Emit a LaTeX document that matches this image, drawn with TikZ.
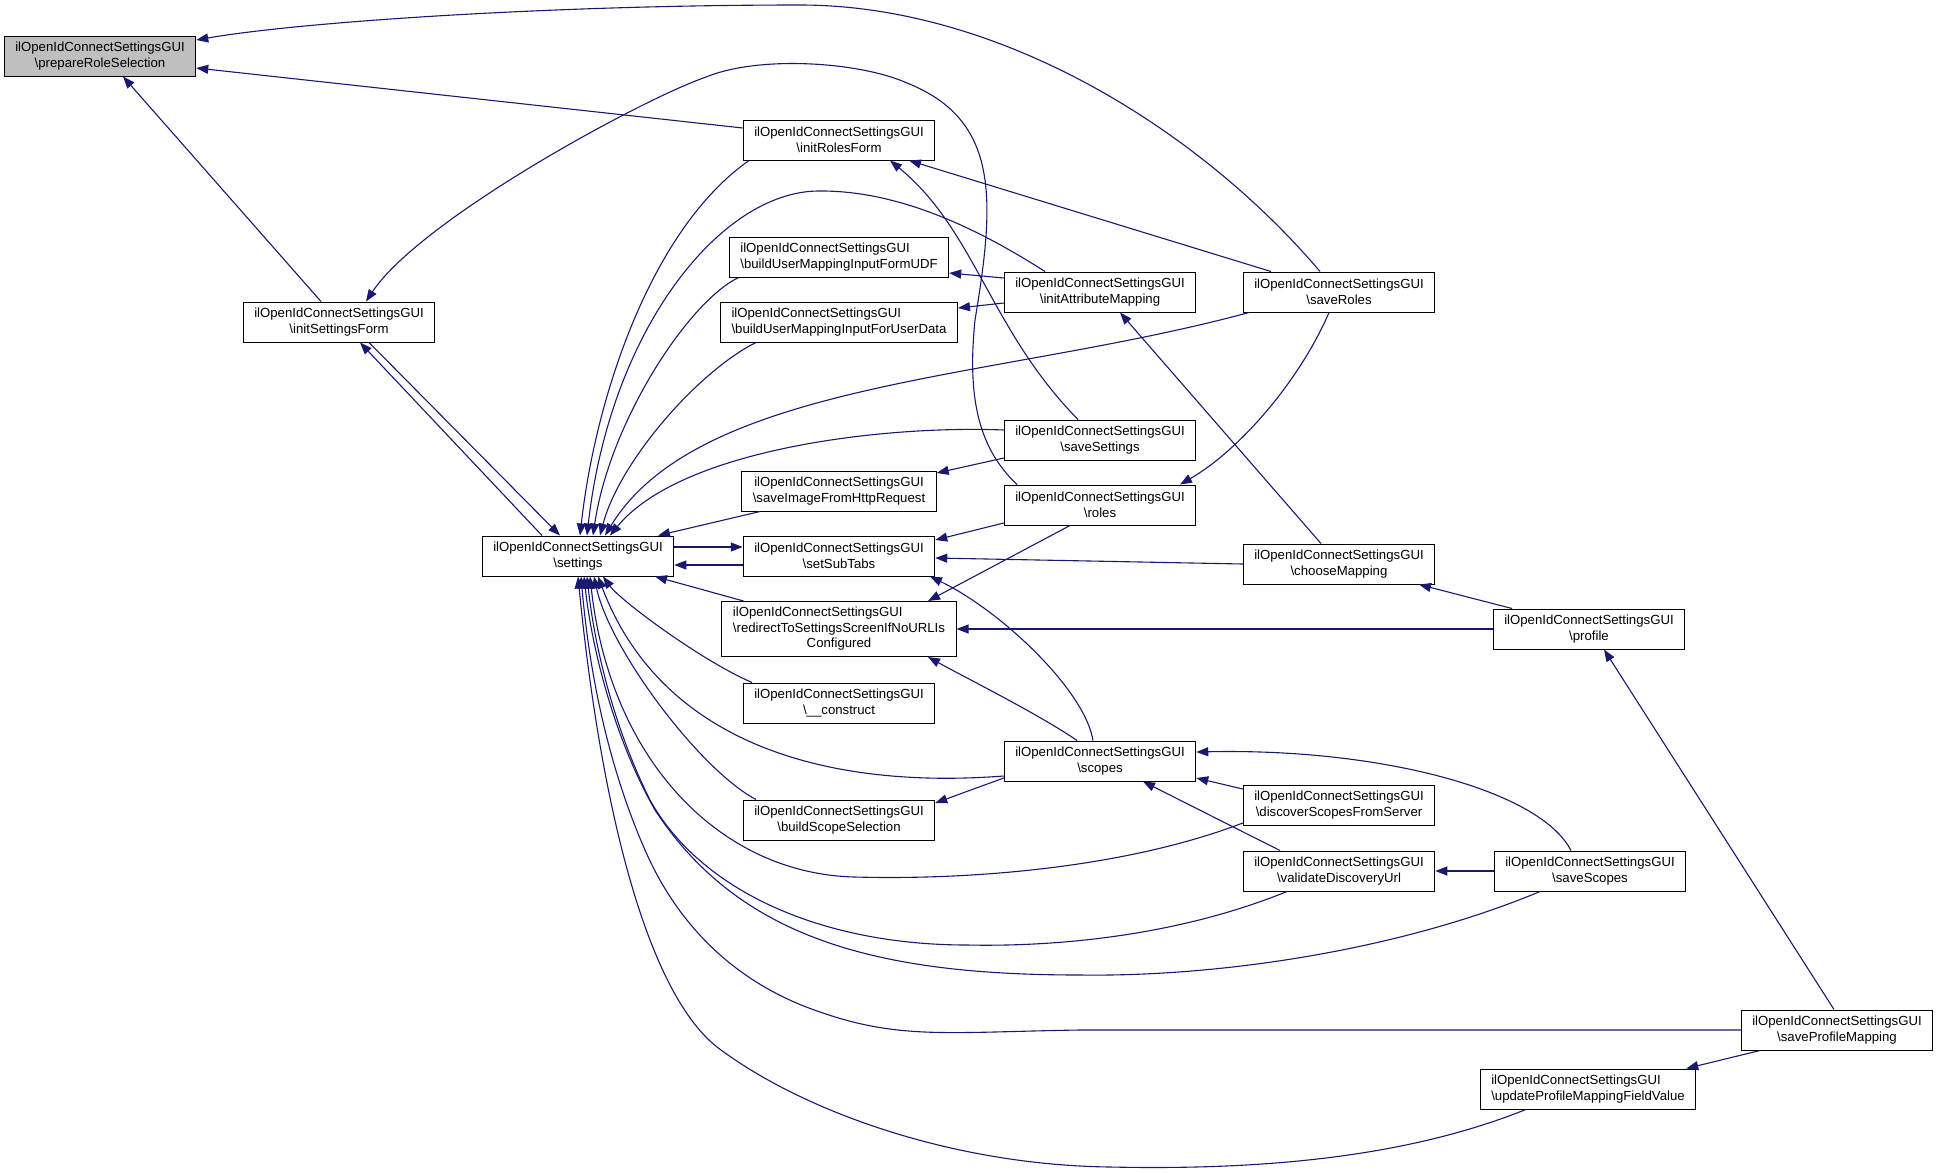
\documentclass[tikz,border=0pt]{standalone}
\usepackage{fontspec}
\setmainfont{Liberation Sans}
\usetikzlibrary{arrows.meta}
\definecolor{edgeblue}{HTML}{191970}
\definecolor{rootgray}{HTML}{BFBFBF}
\tikzset{
  fnbox/.style={draw=black, line width=1pt, minimum width=191pt, minimum height=40pt, inner xsep=11pt, inner ysep=2pt},
  fn/.style={fnbox, align=center},
  widefn/.style={fnbox, align=left},
  call/.style={draw=edgeblue, line width=1.1pt, -{Triangle[length=12pt,width=9pt]}}
}
\begin{document}
\begin{tikzpicture}[x=1pt, y=-1pt, font=\fontsize{13.2}{15.5}\selectfont]
\useasboundingbox (0,0) rectangle (1939,1173);

\node[fn, fill=rootgray] (prepRole) at (100,56) {ilOpenIdConnectSettingsGUI\\\textbackslash prepareRoleSelection};
\node[fn] (initSettings) at (339,322) {ilOpenIdConnectSettingsGUI\\\textbackslash initSettingsForm};
\node[fn] (settings) at (578,556) {ilOpenIdConnectSettingsGUI\\\textbackslash settings};
\node[fn] (initRoles) at (839,140) {ilOpenIdConnectSettingsGUI\\\textbackslash initRolesForm};
\node[widefn] (buildUDF) at (839,257) {ilOpenIdConnectSettingsGUI\\\textbackslash buildUserMappingInputFormUDF};
\node[widefn] (buildUserData) at (839,322) {ilOpenIdConnectSettingsGUI\\\textbackslash buildUserMappingInputForUserData};
\node[fn] (saveImage) at (839,491) {ilOpenIdConnectSettingsGUI\\\textbackslash saveImageFromHttpRequest};
\node[fn] (setSubTabs) at (839,556) {ilOpenIdConnectSettingsGUI\\\textbackslash setSubTabs};
\node[fnbox, minimum height=55pt] (redirect) at (839,629) {\begin{tabular}{@{}l@{}}ilOpenIdConnectSettingsGUI\\\textbackslash redirectToSettingsScreenIfNoURLIs\\\multicolumn{1}{@{}c@{}}{Configured}\end{tabular}};
\node[fn] (construct) at (839,703) {ilOpenIdConnectSettingsGUI\\\textbackslash\_\_construct};
\node[fn] (buildScope) at (839,820) {ilOpenIdConnectSettingsGUI\\\textbackslash buildScopeSelection};
\node[fn] (initAttr) at (1100,292) {ilOpenIdConnectSettingsGUI\\\textbackslash initAttributeMapping};
\node[fn] (saveSettings) at (1100,440) {ilOpenIdConnectSettingsGUI\\\textbackslash saveSettings};
\node[fn] (roles) at (1100,505) {ilOpenIdConnectSettingsGUI\\\textbackslash roles};
\node[fn] (scopes) at (1100,761) {ilOpenIdConnectSettingsGUI\\\textbackslash scopes};
\node[fn] (saveRoles) at (1339,292) {ilOpenIdConnectSettingsGUI\\\textbackslash saveRoles};
\node[fn] (chooseMap) at (1339,564) {ilOpenIdConnectSettingsGUI\\\textbackslash chooseMapping};
\node[fn] (discover) at (1339,805) {ilOpenIdConnectSettingsGUI\\\textbackslash discoverScopesFromServer};
\node[fn] (validate) at (1339,871) {ilOpenIdConnectSettingsGUI\\\textbackslash validateDiscoveryUrl};
\node[fn] (profile) at (1589,629) {ilOpenIdConnectSettingsGUI\\\textbackslash profile};
\node[fn] (saveScopes) at (1590,871) {ilOpenIdConnectSettingsGUI\\\textbackslash saveScopes};
\node[widefn] (updateProfile) at (1588,1089) {ilOpenIdConnectSettingsGUI\\\textbackslash updateProfileMappingFieldValue};
\node[fn] (saveProfile) at (1837,1030) {ilOpenIdConnectSettingsGUI\\\textbackslash saveProfileMapping};

\draw[call] ([xshift=-19pt]saveRoles.north) .. controls (1200,130) and (1000,5) .. (800,5) .. controls (550,5) and (300,22) .. ([yshift=16pt]prepRole.east);
\draw[call] ([yshift=12pt]initRoles.west) -- ([yshift=-12pt]prepRole.east);
\draw[call] ([xshift=-18pt]initSettings.north) -- ([xshift=23pt]prepRole.south);
\draw[call] ([xshift=-83pt]roles.north) .. controls (975,445) and (968,390) .. (975,320) .. controls (995,200) and (1000,120) .. (907,83) .. controls (860,62) and (760,55) .. (706,77) .. controls (640,100) and (420,220) .. ([xshift=27pt]initSettings.north);
\draw[call] ([xshift=-36pt]settings.north) -- ([xshift=21pt]initSettings.south);
\draw[call] ([xshift=30pt]initSettings.south) -- ([xshift=-18pt]settings.north);

\draw[call] ([xshift=-22pt]saveSettings.north) .. controls (990,330) and (975,230) .. ([xshift=51pt]initRoles.south);
\draw[call] ([xshift=-68pt]saveRoles.north) -- ([xshift=70pt]initRoles.south);
\draw[call] ([yshift=14pt]initAttr.west) -- ([yshift=-16pt]buildUDF.east);
\draw[call] ([yshift=-11pt]initAttr.west) -- ([yshift=14pt]buildUserData.east);
\draw[call] ([xshift=-18pt]chooseMap.north) -- ([xshift=20pt]initAttr.south);
\draw[call] ([xshift=-10pt]saveRoles.south) .. controls (1300,380) and (1240,450) .. ([xshift=80pt]roles.north);
\draw[call] ([xshift=-30pt]roles.south) -- ([xshift=89pt]redirect.north);
\draw[call] ([yshift=-18pt]roles.west) -- ([yshift=16pt]setSubTabs.east);
\draw[call] (chooseMap.west) -- ([yshift=-2pt]setSubTabs.east);
\draw[call] ([xshift=-7pt]scopes.north) .. controls (1085,690) and (1000,610) .. ([xshift=91pt]setSubTabs.south);
\draw[call] ([xshift=-23pt]scopes.north) .. controls (1040,715) and (970,680) .. ([xshift=89pt]redirect.south);
\draw[call] (profile.west) -- (redirect.east);
\draw[call] ([xshift=-77pt]profile.north) -- ([xshift=80pt]chooseMap.south);
\draw[call] ([xshift=-3pt]saveProfile.north) -- ([xshift=15pt]profile.south);
\draw[call] ([xshift=-77pt]saveProfile.south) -- ([xshift=-10pt]updateProfile.north east);
\draw[call] (saveScopes.west) -- (validate.east);
\draw[call] ([xshift=-19pt]saveScopes.north) .. controls (1540,790) and (1380,748) .. ([yshift=9pt]scopes.east);
\draw[call] ([yshift=16pt]discover.west) -- ([yshift=-17pt]scopes.east);
\draw[call] ([xshift=-59pt]validate.north) -- ([xshift=43pt]scopes.south);
\draw[call] ([yshift=-17pt]scopes.west) -- ([yshift=17pt]buildScope.east);
\draw[call] ([yshift=-18pt]saveSettings.west) -- ([yshift=18pt]saveImage.east);

\draw[call] ([xshift=-90pt]initRoles.south) .. controls (650,230) and (595,400) .. ([xshift=2pt]settings.north);
\draw[call] ([xshift=-55pt]initAttr.north) .. controls (980,230) and (900,190) .. (818,191) .. controls (720,192) and (610,330) .. ([xshift=9pt]settings.north);
\draw[call] ([xshift=10pt]buildUDF.south west) .. controls (690,300) and (610,420) .. ([xshift=15pt]settings.north);
\draw[call] ([xshift=36pt]buildUserData.south west) .. controls (700,370) and (620,460) .. ([xshift=22pt]settings.north);
\draw[call] ([xshift=-90pt]saveRoles.south) .. controls (1000,380) and (700,380) .. ([xshift=27pt]settings.north);
\draw[call] ([yshift=10pt]saveSettings.west) .. controls (880,425) and (680,450) .. ([xshift=32pt]settings.north);
\draw[call] ([xshift=-79pt]saveImage.south) -- ([xshift=80pt]settings.north);
\draw[call] ([yshift=9pt]settings.east) -- ([yshift=9pt]setSubTabs.west);
\draw[call] ([yshift=-9pt]setSubTabs.west) -- ([yshift=-9pt]settings.east);

\draw[call] ([xshift=22pt]redirect.north west) -- ([xshift=77pt]settings.south);
\draw[call] ([xshift=-87pt]construct.north) .. controls (700,660) and (620,600) .. ([xshift=25pt]settings.south);
\draw[call] ([yshift=-15pt]scopes.west) .. controls (820,790) and (660,740) .. ([xshift=20pt]settings.south);
\draw[call] ([xshift=-83pt]buildScope.north) .. controls (700,770) and (610,650) .. ([xshift=16pt]settings.south);
\draw[call] ([yshift=-18pt]discover.west) .. controls (1120,870) and (960,880) .. (855,877) .. controls (720,874) and (610,760) .. ([xshift=12pt]settings.south);
\draw[call] ([xshift=-52pt]validate.south) .. controls (1180,935) and (1060,947) .. (967,945) .. controls (820,945) and (700,890) .. (650,800) .. controls (615,730) and (595,650) .. ([xshift=9pt]settings.south);
\draw[call] ([xshift=-50pt]saveScopes.south) .. controls (1400,950) and (1220,977) .. (1080,975) .. controls (880,975) and (740,940) .. (655,810) .. controls (615,740) and (592,650) .. ([xshift=6pt]settings.south);
\draw[call] (saveProfile.west) -- (1080,1030) .. controls (950,1032) and (900,1040) .. (820,1012) .. controls (740,985) and (680,930) .. (645,850) .. controls (610,770) and (590,680) .. ([xshift=3pt]settings.south);
\draw[call] ([xshift=46pt]updateProfile.south west) .. controls (1400,1160) and (1250,1170) .. (1110,1167) .. controls (950,1165) and (800,1110) .. (717,1047) .. controls (645,990) and (600,800) .. (settings.south);
\end{tikzpicture}
\end{document}
